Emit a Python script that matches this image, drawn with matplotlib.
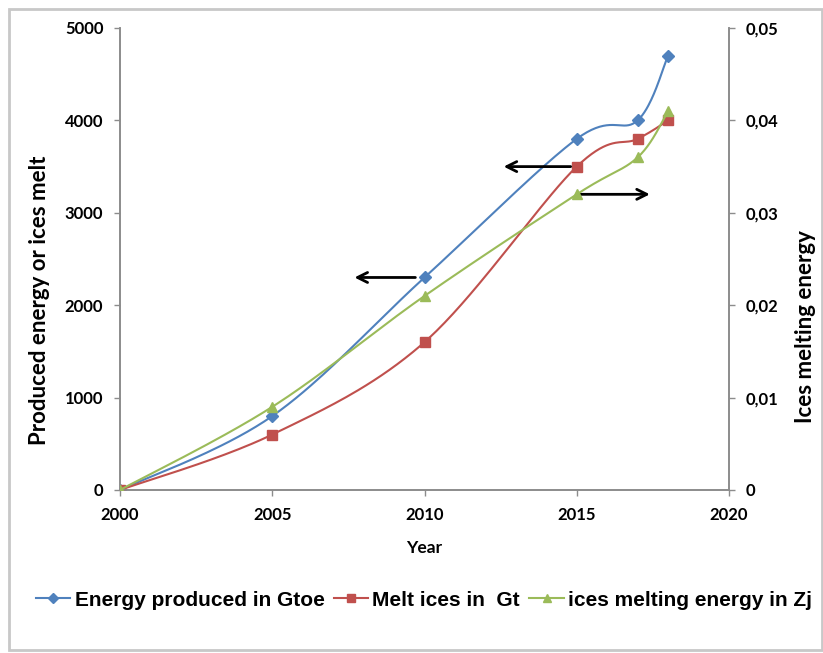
import numpy as np
import matplotlib
matplotlib.use("Agg")
import matplotlib.pyplot as plt
from matplotlib.lines import Line2D
from matplotlib.patches import Rectangle

years = [2000, 2005, 2010, 2015, 2017, 2018]
energy_gtoe = [0, 800, 2300, 3800, 4000, 4700]
melt_ices_gt = [0, 600, 1600, 3500, 3800, 4000]
melt_energy_zj = [0, 0.009, 0.021, 0.032, 0.036, 0.041]

left_ticks = [0, 1000, 2000, 3000, 4000, 5000]
right_ticks = [0, 0.01, 0.02, 0.03, 0.04, 0.05]
right_tick_labels = ["0", "0,01", "0,02", "0,03", "0,04", "0,05"]
x_ticks = [2000, 2005, 2010, 2015, 2020]

BLUE = "#4F81BD"
RED = "#C0504D"
GREEN = "#9BBB59"
FONT = ["Lato", "DejaVu Sans"]
LEGFONT = ["Liberation Sans", "DejaVu Sans"]


def smooth(xs, ys, xr, yr, n=40):
    """Excel-like smoothed curve (Catmull-Rom Bezier) through the data points."""
    xs = np.asarray(xs, float)
    ys = np.asarray(ys, float)
    P = np.column_stack([xs / xr, ys / yr])
    out = [P[0]]
    for i in range(len(P) - 1):
        p0 = P[i - 1] if i > 0 else P[i]
        p1 = P[i]
        p2 = P[i + 1]
        p3 = P[i + 2] if i + 2 < len(P) else P[i + 1]
        c1 = p1 + (p2 - p0) / 6.0
        c2 = p2 - (p3 - p1) / 6.0
        t = np.linspace(0, 1, n)[1:, None]
        b = ((1 - t) ** 3) * p1 + 3 * ((1 - t) ** 2) * t * c1 + 3 * (1 - t) * t ** 2 * c2 + t ** 3 * p2
        out.extend(b)
    out = np.array(out)
    return out[:, 0] * xr, out[:, 1] * yr


fig = plt.figure(figsize=(8.23, 6.53), dpi=100)
fig.patches.append(Rectangle((9 / 823, 1 - 650 / 653), 813 / 823, 641 / 653,
                             transform=fig.transFigure, fill=False,
                             edgecolor="#C8C8C8", linewidth=2))

ax = fig.add_axes([120 / 823, 1 - 490 / 653, 609 / 823, 462 / 653])
ax2 = ax.twinx()

xr = 20.0
sx, sy = smooth(years, energy_gtoe, xr, 5000)
ax.plot(sx, sy, color=BLUE, lw=1.5, zorder=3)
ax.plot(years, energy_gtoe, ls="none", marker="D", ms=6.5, color=BLUE, zorder=4)
sx, sy = smooth(years, melt_ices_gt, xr, 5000)
ax.plot(sx, sy, color=RED, lw=1.5, zorder=3)
ax.plot(years, melt_ices_gt, ls="none", marker="s", ms=7, color=RED, zorder=4)
sx, sy = smooth(years, melt_energy_zj, xr, 0.05)
ax2.plot(sx, sy, color=GREEN, lw=1.5, zorder=3)
ax2.plot(years, melt_energy_zj, ls="none", marker="^", ms=7.5, color=GREEN, zorder=4)

ax.set_xlim(2000, 2020)
ax.set_ylim(0, 5000)
ax2.set_ylim(0, 0.05)
ax.set_xticks(x_ticks)
ax.set_yticks(left_ticks)
ax2.set_yticks(right_ticks)
ax2.set_yticklabels(right_tick_labels)

for a in (ax, ax2):
    for s in a.spines.values():
        s.set_color("#8C8C8C")
        s.set_linewidth(1.2)
    a.spines["top"].set_visible(False)
    a.tick_params(colors="#8C8C8C", length=4, width=1, labelcolor="black", labelsize=12)
    for lab in a.get_xticklabels() + a.get_yticklabels():
        lab.set_family(FONT)
        lab.set_fontweight("bold")
ax.tick_params(axis="x", pad=8)
ax.tick_params(axis="y", pad=8)
ax2.tick_params(axis="y", pad=8)

ax.set_xlabel("Year", family=FONT, fontweight="bold", fontsize=12.5)
ax.xaxis.set_label_coords(0.5, -(548 - 490) / 462)
ax.xaxis.label.set_va("center")

ax.set_ylabel("Produced energy or ices melt", family=FONT, fontweight="bold", fontsize=16)
ax.yaxis.set_label_coords(-(120 - 40) / 609, (490 - 300) / 462)
ax.yaxis.label.set_va("center")
ax.yaxis.label.set_ha("center")

ax2.set_ylabel("Ices melting energy", family=FONT, fontweight="bold", fontsize=16, rotation=90)
ax2.yaxis.set_label_coords((806 - 120) / 609, (490 - 327) / 462)
ax2.yaxis.label.set_va("center")
ax2.yaxis.label.set_ha("center")

arrow = dict(arrowstyle="->", color="black", lw=2, mutation_scale=18, shrinkA=0, shrinkB=0)
ax.annotate("", xy=(2007.7, 2300), xytext=(2009.7, 2300), arrowprops=arrow, zorder=5)
ax.annotate("", xy=(2012.6, 3500), xytext=(2014.8, 3500), arrowprops=arrow, zorder=5)
ax.annotate("", xy=(2017.4, 3200), xytext=(2015.0, 3200), arrowprops=arrow, zorder=5)

handles = [
    Line2D([], [], color=BLUE, lw=1.5, marker="D", ms=5.5),
    Line2D([], [], color=RED, lw=1.5, marker="s", ms=6),
    Line2D([], [], color=GREEN, lw=1.5, marker="^", ms=6),
]
labels = ["Energy produced in Gtoe", "Melt ices in  Gt", "ices melting energy in Zj"]
fig.legend(handles, labels, loc="center", bbox_to_anchor=(424 / 823, 1 - 600 / 653),
           ncol=3, frameon=False, handlelength=1.65, handletextpad=0.2, columnspacing=0.45,
           borderpad=0, borderaxespad=0,
           prop=dict(family=LEGFONT, weight="bold", size=15))

fig.savefig("out.png", dpi=100)
